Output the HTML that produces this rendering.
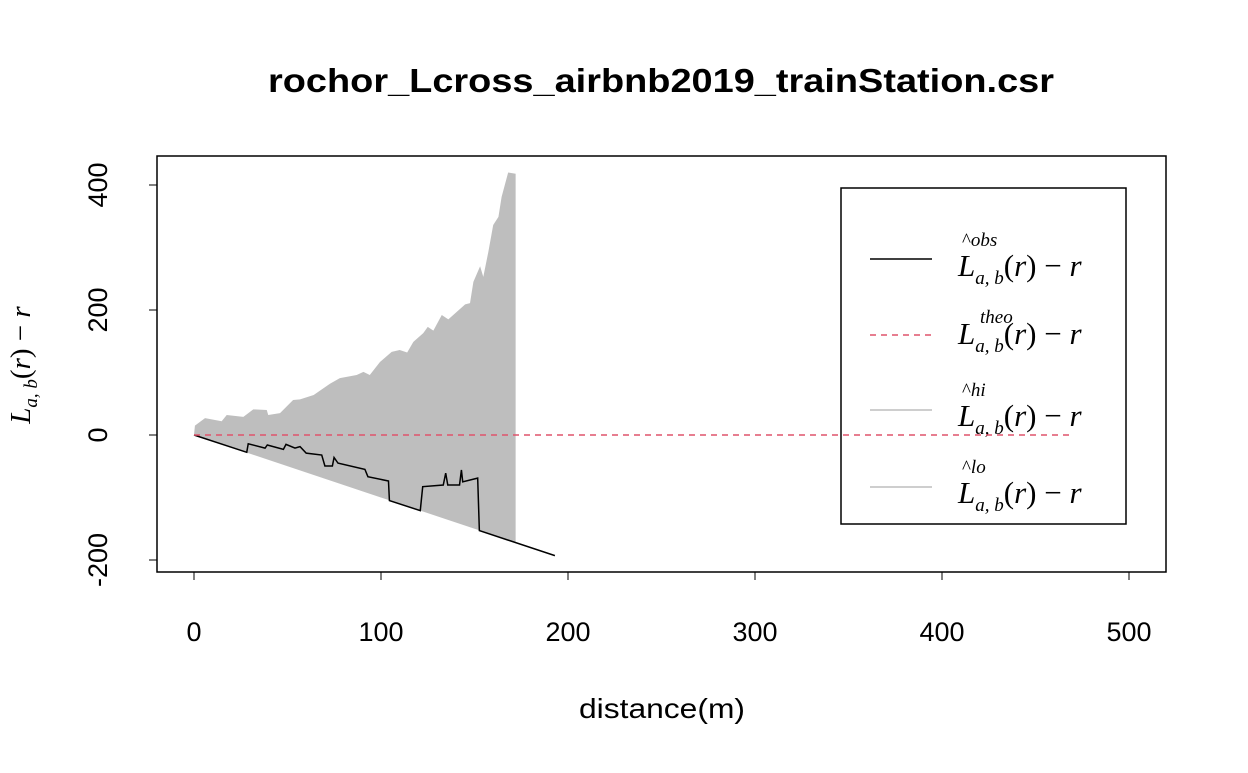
<!DOCTYPE html>
<html><head><meta charset="utf-8"><style>
body{margin:0;background:#fff;font-family:"Liberation Sans",sans-serif}
svg text{font-family:"Liberation Sans",sans-serif}
.m{font-family:"Liberation Serif",serif;font-style:italic}
</style></head><body>
<svg id="c" width="1248" height="768" xmlns="http://www.w3.org/2000/svg">
<text x="661" y="92" text-anchor="middle" font-size="33" font-weight="bold" textLength="786" lengthAdjust="spacingAndGlyphs">rochor_Lcross_airbnb2019_trainStation.csr</text>
<g id="plot"></g>
<rect x="157" y="156" width="1009" height="416" fill="none" stroke="#000" stroke-width="1.5"/>
<text x="662" y="718" text-anchor="middle" font-size="28" textLength="166" lengthAdjust="spacingAndGlyphs">distance(m)</text>
<text transform="translate(30,365) rotate(-90)" text-anchor="middle" font-size="29" class="m">L<tspan font-size="19" dy="7">a, b</tspan><tspan dy="-7" font-style="normal">(</tspan>r<tspan font-style="normal">) − </tspan>r</text>
<g>
<rect x="841" y="188" width="285" height="336" fill="#fff" stroke="#000" stroke-width="1.5"/>
<line x1="870" y1="259" x2="932" y2="259" stroke="#000" stroke-width="1.5"/>
<text x="958" y="276" font-size="31" class="m">L<tspan font-size="19" dy="8">a, b</tspan><tspan dy="-8" font-style="normal">(</tspan>r<tspan font-style="normal">) − </tspan>r</text>
<text x="962" y="246" font-size="19" class="m"><tspan font-style="normal">^</tspan>obs</text>
<line x1="870" y1="335" x2="932" y2="335" stroke="#DF536B" stroke-width="1.5" stroke-dasharray="6,5"/>
<text x="958" y="344" font-size="31" class="m">L<tspan font-size="19" dy="8">a, b</tspan><tspan dy="-8" font-style="normal">(</tspan>r<tspan font-style="normal">) − </tspan>r</text>
<text x="980" y="323" font-size="19" class="m">theo</text>
<line x1="870" y1="410" x2="932" y2="410" stroke="#bebebe" stroke-width="1.5"/>
<text x="958" y="426" font-size="31" class="m">L<tspan font-size="19" dy="8">a, b</tspan><tspan dy="-8" font-style="normal">(</tspan>r<tspan font-style="normal">) − </tspan>r</text>
<text x="962" y="396" font-size="19" class="m"><tspan font-style="normal">^</tspan>hi</text>
<line x1="870" y1="487" x2="932" y2="487" stroke="#bebebe" stroke-width="1.5"/>
<text x="958" y="503" font-size="31" class="m">L<tspan font-size="19" dy="8">a, b</tspan><tspan dy="-8" font-style="normal">(</tspan>r<tspan font-style="normal">) − </tspan>r</text>
<text x="962" y="473" font-size="19" class="m"><tspan font-style="normal">^</tspan>lo</text>
</g>
<g id="over"></g>
</svg>
<script>
const xTicks=[0,100,200,300,400,500];
const yTicks=[-200,0,200,400];
const hiR=[0,0.5,5.9,14.8,17.5,26.4,31.7,38.9,39.7,46,53,56.7,64,72.7,78,87,90.6,94,99.5,105.7,110,114,117.3,122.6,125,128,132.5,136,140.5,145,147.6,149.4,153,154.7,157.4,160,162.8,164.5,168,172];
const hiV=[0,15,27,22,32,29,41,40,32,35,56,57,64,82,91,96,101,96,117,133,136,132,149,163,173,167,192,185,197,209,211,245,270,253,293,336,349,381,420,418];
const loR=[0,172];
const loV=[0,-172];
const obsR=[0,28.2,29,38,39.2,47.8,49.2,54,56.7,60,68.3,70,74,74.9,77,91.4,93,104,104.5,121,122.3,133.3,134.6,135.7,142,143,143.7,151.7,152.6,193];
const obsV=[0,-27.7,-14,-21,-16,-23,-15,-21,-18.6,-29,-32,-49.6,-49.6,-36,-45,-55,-66.7,-73.6,-105,-121,-82.7,-80,-61,-80,-80,-56,-75,-69,-153,-193];
const theoR=[0,468];
const theoV=[0,0];
const X=v=>194+v*1.87, Y=v=>435-v*0.625;
const ns="http://www.w3.org/2000/svg";
const g=document.getElementById('plot'), ov=document.getElementById('over');
function mk(t,a,p){const e=document.createElementNS(ns,t);for(const k in a)e.setAttribute(k,a[k]);(p||g).appendChild(e);return e;}
let pts=hiR.map((r,i)=>X(r)+','+Y(hiV[i]));
for(let i=loR.length-1;i>=0;i--)pts.push(X(loR[i])+','+Y(loV[i]));
const env=mk('polygon',{points:pts.join(' '),fill:'#bebebe'});


const ob=mk('polyline',{points:obsR.map((r,i)=>X(r)+','+Y(obsV[i])).join(' '),fill:'none',stroke:'#000','stroke-width':1.5});


const th=mk('polyline',{points:theoR.map((r,i)=>X(r)+','+Y(theoV[i])).join(' '),fill:'none',stroke:'#DF536B','stroke-width':1.5,'stroke-dasharray':'6,5'},ov);


mk('line',{x1:X(0),x2:X(500),y1:572,y2:572,stroke:'#000'});
xTicks.forEach(t=>{const l=mk('line',{x1:X(t),x2:X(t),y1:572,y2:580,stroke:'#000'});


const tx=mk('text',{x:X(t),y:641,'text-anchor':'middle','font-size':27});tx.textContent=t;

});
yTicks.forEach(t=>{const l=mk('line',{x1:149,x2:157,y1:Y(t),y2:Y(t),stroke:'#000'});


const tx=mk('text',{transform:`translate(107,${Y(t)}) rotate(-90)`,'text-anchor':'middle','font-size':27});tx.textContent=t;

});
</script>
</body></html>
